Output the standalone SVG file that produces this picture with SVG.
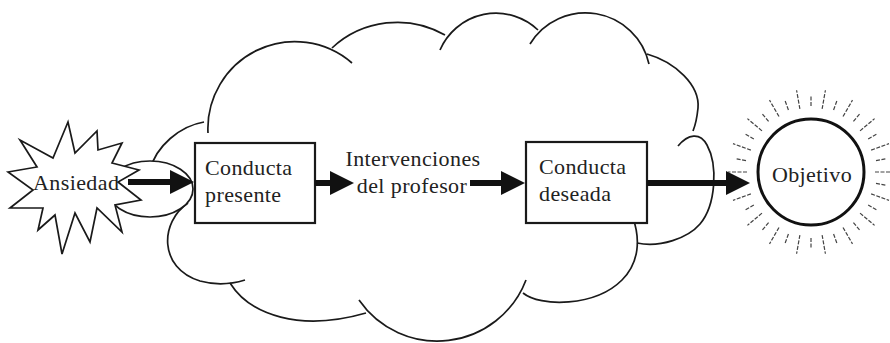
<svg xmlns="http://www.w3.org/2000/svg" width="890" height="343" viewBox="0 0 890 343">
<style>
.cloud{fill:none;stroke:#1a1a1a;stroke-width:1.7}
.box{fill:#fff;stroke:#1a1a1a;stroke-width:2.2}
.t{font-family:"Liberation Serif","Times New Roman",serif;font-size:22px;fill:#222;letter-spacing:0.4px}
.conn{stroke:#111;stroke-width:6;fill:none}
.ray{stroke:#444;stroke-width:1.2;stroke-dasharray:4 1.5}
</style>
<defs>
<marker id="ah" markerUnits="userSpaceOnUse" markerWidth="25" markerHeight="26" refX="0" refY="13" orient="auto">
<path d="M0,1 L24,13 L0,25 z" fill="#111"/>
</marker>
<line id="rl" class="ray" x1="875" y1="172" x2="894" y2="172"/>
<line id="rs" class="ray" x1="877" y1="172" x2="888" y2="172"/>
</defs>
<rect width="890" height="343" fill="#fff"/>
<g id="cloud">
<path class="cloud" d="M150,170 C156,146 180,126 204,122"/>
<path class="cloud" d="M208,133 A87 87 0 0 1 352,63"/>
<path class="cloud" d="M332,48 A96 96 0 0 1 445,35"/>
<path class="cloud" d="M440,50 A61 61 0 0 1 538,30"/>
<path class="cloud" d="M530,44 A65 65 0 0 1 649,64"/>
<path class="cloud" d="M647,54 C675,62 700,85 698,108 C697,118 695,126 693,131"/>
<path class="cloud" d="M678,146 C688,134 700,132 707,145 C718,165 716,205 700,224 C688,238 660,248 637,243"/>
<path class="cloud" d="M523,293 C540,307 595,307 622,280 C640,262 640,238 633,218"/>
<path class="cloud" d="M359,300 A95 95 0 0 0 526,280"/>
<path class="cloud" d="M230,283 C250,315 300,332 366,313"/>
<path class="cloud" d="M188,203 C160,222 158,268 200,281 C218,286 232,284 245,280"/>
</g>
<g id="ansiedad">
<ellipse cx="150" cy="189" rx="43" ry="28" fill="#fff" stroke="#1a1a1a" stroke-width="1.7"/>
<polygon points="8,172 37,167 20,140 53,158 68,122 75,153 97,131 98,150 122,143 112,163 139,170 118,182 141,200 115,205 122,232 97,208 90,242 75,213 62,254 55,215 38,230 43,208 10,208 33,190" fill="#fff" stroke="#1a1a1a" stroke-width="1.7" stroke-linejoin="miter"/>
<text class="t" x="33" y="190">Ansiedad</text>
</g>
<g id="presente">
<rect class="box" x="195" y="143" width="120" height="80"/>
<text class="t" x="205" y="175">Conducta</text>
<text class="t" x="205" y="202">presente</text>
</g>
<g id="intervenciones">
<text class="t" x="413" y="166" text-anchor="middle">Intervenciones</text>
<text class="t" x="412" y="193" text-anchor="middle">del profesor</text>
</g>
<g id="deseada">
<rect class="box" x="526" y="142" width="121" height="81"/>
<text class="t" x="539" y="174">Conducta</text>
<text class="t" x="539" y="201">deseada</text>
</g>
<g id="objetivo">
<use href="#rl" transform="rotate(0 811 172)"/>
<use href="#rs" transform="rotate(10 811 172)"/>
<use href="#rl" transform="rotate(20 811 172)"/>
<use href="#rs" transform="rotate(30 811 172)"/>
<use href="#rl" transform="rotate(40 811 172)"/>
<use href="#rs" transform="rotate(50 811 172)"/>
<use href="#rl" transform="rotate(60 811 172)"/>
<use href="#rs" transform="rotate(70 811 172)"/>
<use href="#rl" transform="rotate(80 811 172)"/>
<use href="#rs" transform="rotate(90 811 172)"/>
<use href="#rl" transform="rotate(100 811 172)"/>
<use href="#rs" transform="rotate(110 811 172)"/>
<use href="#rl" transform="rotate(120 811 172)"/>
<use href="#rs" transform="rotate(130 811 172)"/>
<use href="#rl" transform="rotate(140 811 172)"/>
<use href="#rs" transform="rotate(150 811 172)"/>
<use href="#rl" transform="rotate(160 811 172)"/>
<use href="#rs" transform="rotate(170 811 172)"/>
<use href="#rl" transform="rotate(180 811 172)"/>
<use href="#rs" transform="rotate(190 811 172)"/>
<use href="#rl" transform="rotate(200 811 172)"/>
<use href="#rs" transform="rotate(210 811 172)"/>
<use href="#rl" transform="rotate(220 811 172)"/>
<use href="#rs" transform="rotate(230 811 172)"/>
<use href="#rl" transform="rotate(240 811 172)"/>
<use href="#rs" transform="rotate(250 811 172)"/>
<use href="#rl" transform="rotate(260 811 172)"/>
<use href="#rs" transform="rotate(270 811 172)"/>
<use href="#rl" transform="rotate(280 811 172)"/>
<use href="#rs" transform="rotate(290 811 172)"/>
<use href="#rl" transform="rotate(300 811 172)"/>
<use href="#rs" transform="rotate(310 811 172)"/>
<use href="#rl" transform="rotate(320 811 172)"/>
<use href="#rs" transform="rotate(330 811 172)"/>
<use href="#rl" transform="rotate(340 811 172)"/>
<use href="#rs" transform="rotate(350 811 172)"/>
<circle cx="811" cy="172" r="53" fill="#fff" stroke="#111" stroke-width="3"/>
<text class="t" x="812" y="182" text-anchor="middle">Objetivo</text>
</g>
<g id="connectors">
<path class="conn" d="M128,182 H170" marker-end="url(#ah)"/>
<path class="conn" d="M315,183 H330" marker-end="url(#ah)"/>
<path class="conn" d="M470,183 H501" marker-end="url(#ah)"/>
<path class="conn" d="M647,183 H726" marker-end="url(#ah)"/>
</g>
</svg>
